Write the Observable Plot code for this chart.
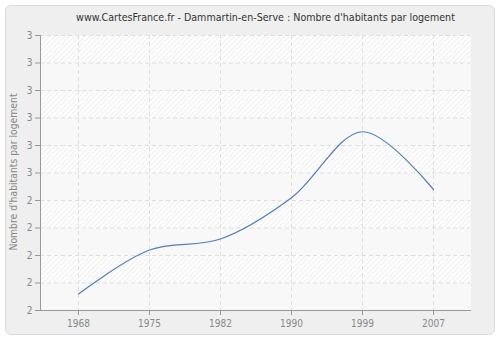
<!DOCTYPE html>
<html><head><meta charset="utf-8">
<script src="https://cdn.jsdelivr.net/npm/d3@7"></script>
<script src="https://cdn.jsdelivr.net/npm/@observablehq/plot@0.6"></script>
<style>
body{margin:0;background:#fff;}
#wrap{position:relative;width:500px;height:340px;overflow:hidden;font-family:"DejaVu Sans Condensed","DejaVu Sans",sans-serif;}
#panel{position:absolute;left:5px;top:5px;width:488px;height:328px;background:#efefef;border:1px solid #dadada;border-radius:6px;}
#title{position:absolute;left:0;top:11px;width:500px;padding-left:31px;box-sizing:border-box;text-align:center;font-size:10.6px;color:#333;white-space:nowrap;}
#ylabel{position:absolute;left:13px;top:172px;width:0;height:0;}
#ylabel span{position:absolute;left:0;top:0;transform:translate(-50%,-50%) rotate(-90deg);white-space:nowrap;font-size:10.3px;color:#888;}
#chart{position:absolute;left:0;top:30px;}
</style></head><body>
<div id="wrap"><div id="panel"></div><div id="title"></div><div id="chart"></div><div id="ylabel"><span></span></div></div>
<script>
const titleText = "www.CartesFrance.fr - Dammartin-en-Serve : Nombre d'habitants par logement";
const yLabel = "Nombre d'habitants par logement";
const years = ["1968", "1975", "1982", "1990", "1999", "2007"];
const values = [2.06, 2.22, 2.26, 2.41, 2.65, 2.44];
const yTicks = [2.0, 2.1, 2.2, 2.3, 2.4, 2.5, 2.6, 2.7, 2.8, 2.9, 3.0];

const data = years.map((year, i) => ({year, value: values[i]}));
const bands = yTicks.slice(0, -1).map((lo, i) => ({lo, hi: yTicks[i + 1], i})).filter(d => d.i % 2 === 0);

document.getElementById("title").textContent = titleText;
document.querySelector("#ylabel span").textContent = yLabel;

const svg = Plot.plot({
  width: 500,
  height: 310,
  marginLeft: 40,
  marginRight: 30,
  marginTop: 5,
  marginBottom: 30,
  style: {background: "transparent", fontFamily: "'DejaVu Sans Condensed','DejaVu Sans',sans-serif", fontSize: "10px", color: "#888"},
  x: {type: "point", domain: years, padding: 0.5},
  y: {domain: [2, 3]},
  marks: [
    Plot.frame({fill: "#fff", stroke: "none"}),
    Plot.frame({fill: "url(#hatch)", stroke: "none"}),
    Plot.rect(bands, {y1: "lo", y2: "hi", fill: "#f8f8f8"}),
    Plot.gridY(yTicks, {stroke: "#dedede", strokeOpacity: 1, strokeDasharray: "4,3"}),
    Plot.gridX(years, {stroke: "#dedede", strokeOpacity: 1, strokeDasharray: "4,3"}),
    Plot.line(data, {x: "year", y: "value", curve: "catmull-rom", stroke: "#4f7fb5", strokeWidth: 1.2}),
    Plot.axisY(yTicks, {tickFormat: d => Math.round(d), tickSize: 5, tickPadding: 3, stroke: "#999", fill: "#888", label: null}),
    Plot.axisX(years, {tickSize: 5, tickPadding: 4, stroke: "#999", fill: "#888", label: null}),
    Plot.frame({anchor: "left", stroke: "#999"}),
    Plot.frame({anchor: "bottom", stroke: "#999"})
  ]
});

const defs = d3.select(svg).insert("defs", ":first-child");
const pat = defs.append("pattern").attr("id", "hatch").attr("patternUnits", "userSpaceOnUse").attr("width", 5).attr("height", 5);
pat.append("rect").attr("width", 5).attr("height", 5).attr("fill", "#fff");
pat.append("path").attr("d", "M0,5L5,0M-1,1L1,-1M4,6L6,4").attr("stroke", "#e4e4e4").attr("stroke-width", 1);

document.getElementById("chart").appendChild(svg);
</script>
</body></html>
